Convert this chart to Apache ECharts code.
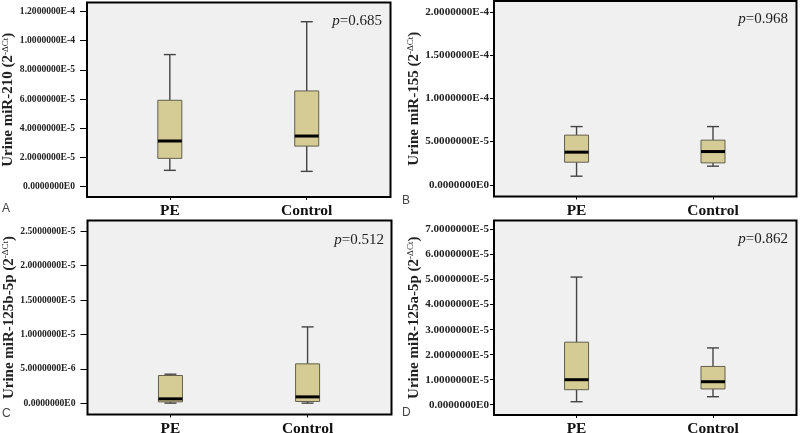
<!DOCTYPE html>
<html><head><meta charset="utf-8">
<script src="https://cdn.jsdelivr.net/npm/echarts@6/dist/echarts.min.js"></script>
<style>html,body{margin:0;padding:0;background:#fff}#c{width:800px;height:433px}</style>
</head><body><div id="c"></div>
<script>
// ---------- data ----------
const categories = ['PE', 'Control'];
// each: [min, Q1, median, Q3, max]
const miR210PE      = [1.12e-5, 1.94e-5, 3.13e-5, 5.92e-5, 9.05e-5];
const miR210Control = [1.05e-5, 2.78e-5, 3.47e-5, 6.56e-5, 1.13e-4];
const miR155PE      = [1.00e-5, 2.62e-5, 3.78e-5, 5.75e-5, 6.74e-5];
const miR155Control = [2.16e-5, 2.54e-5, 3.85e-5, 5.17e-5, 6.74e-5];
const miR125bPE      = [5e-8, 2.3e-7, 6.7e-7, 4.06e-6, 4.25e-6];
const miR125bControl = [5e-8, 2.9e-7, 9.6e-7, 5.75e-6, 1.111e-5];
const miR125aPE      = [1.2e-6, 6.0e-6, 1.0e-5, 2.50e-5, 5.10e-5];
const miR125aControl = [3.2e-6, 6.3e-6, 9.2e-6, 1.53e-5, 2.27e-5];
const pValues = ['0.685', '0.968', '0.512', '0.862'];
const panelLetters = ['A', 'B', 'C', 'D'];
const yNames = ['Urine miR-210', 'Urine miR-155', 'Urine miR-125b-5p', 'Urine miR-125a-5p'];
const yTicksA = [0, 2e-5, 4e-5, 6e-5, 8e-5, 1e-4, 1.2e-4];
const yTicksB = [0, 5e-5, 1e-4, 1.5e-4, 2e-4];
const yTicksC = [0, 5e-6, 1e-5, 1.5e-5, 2e-5, 2.5e-5];
const yTicksD = [0, 1e-5, 2e-5, 3e-5, 4e-5, 5e-5, 6e-5, 7e-5];

// ---------- layout ----------
const panels = [
  { grid: {left: 87,  top: 2.5,   width: 303.5, height: 194.5}, yMin: -7.06e-6, yMax: 1.2617e-4, ticks: yTicksA, lblSize: 9.6, lblMargin: 12, tickLen: 7, nameGap: 70,
    series: [miR210PE, miR210Control], p: [382, 21], letter: [2, 209] },
  { grid: {left: 494, top: 1,     width: 302.5, height: 195.5}, yMin: -1.35e-5, yMax: 2.127e-4, ticks: yTicksB, lblSize: 11.1, lblMargin: 5, tickLen: 4, nameGap: 67,
    series: [miR155PE, miR155Control], p: [788, 19], letter: [402, 201] },
  { grid: {left: 87.5, top: 220.5, width: 304,  height: 194},   yMin: -1.6e-6, yMax: 2.655e-5, ticks: yTicksC, lblSize: 9.6, lblMargin: 12, tickLen: 7, nameGap: 70,
    series: [miR125bPE, miR125bControl], p: [384, 240], letter: [2, 414] },
  { grid: {left: 494, top: 220.5, width: 302.5, height: 194.5}, yMin: -4.1e-6, yMax: 7.36e-5, ticks: yTicksD, lblSize: 11.1, lblMargin: 5, tickLen: 4, nameGap: 67,
    series: [miR125aPE, miR125aControl], p: [788, 239], letter: [402, 413] }
];

const SERIF = 'Liberation Serif';
function fmtSci(v) {
  if (Math.abs(v) < 1e-20) return '0.0000000E0';
  return v.toExponential(7).replace('e', 'E').replace('+', '');
}

function renderBox(params, api) {
  const x = api.value(0);
  const pMin = api.coord([x, api.value(1)]);
  const pQ1  = api.coord([x, api.value(2)]);
  const pMed = api.coord([x, api.value(3)]);
  const pQ3  = api.coord([x, api.value(4)]);
  const pMax = api.coord([x, api.value(5)]);
  const cx = pMed[0], hw = 12, cw = 6;
  const wStyle = {stroke: '#444', lineWidth: 1.4};
  return {
    type: 'group',
    children: [
      {type: 'line', shape: {x1: cx, y1: pQ3[1], x2: cx, y2: pMax[1]}, style: wStyle},
      {type: 'line', shape: {x1: cx, y1: pQ1[1], x2: cx, y2: pMin[1]}, style: wStyle},
      {type: 'line', shape: {x1: cx - cw, y1: pMax[1], x2: cx + cw, y2: pMax[1]}, style: wStyle},
      {type: 'line', shape: {x1: cx - cw, y1: pMin[1], x2: cx + cw, y2: pMin[1]}, style: wStyle},
      {type: 'rect', shape: {x: cx - hw, y: pQ3[1], width: 2 * hw, height: pQ1[1] - pQ3[1]},
        style: {fill: '#d4cc94', stroke: '#625f4c', lineWidth: 1}},
      {type: 'line', shape: {x1: cx - hw, y1: pMed[1], x2: cx + hw, y2: pMed[1]}, style: {stroke: '#000', lineWidth: 3}}
    ]
  };
}

const option = {
  animation: false,
  backgroundColor: '#ffffff',
  grid: panels.map(p => Object.assign({show: true, backgroundColor: '#f0f0f0', borderColor: '#000', borderWidth: 2,
    containLabel: false, outerBoundsMode: 'none'}, p.grid)),
  xAxis: panels.map((p, i) => ({
    gridIndex: i, type: 'value', min: 0.395, max: 2.612, position: 'bottom',
    axisLine: {show: false, onZero: false}, splitLine: {show: false},
    axisTick: {show: true, length: 3, customValues: [1, 2], lineStyle: {color: '#000', width: 1}},
    axisLabel: {customValues: [1, 2], formatter: v => categories[Math.round(v) - 1],
      fontFamily: SERIF, fontWeight: 'bold', fontSize: 15.5, color: '#111', margin: 6}
  })),
  yAxis: panels.map((p, i) => ({
    gridIndex: i, type: 'value', min: p.yMin, max: p.yMax, position: 'left',
    axisLine: {show: false, onZero: false}, splitLine: {show: false},
    axisTick: {show: true, length: p.tickLen, customValues: p.ticks, lineStyle: {color: '#000', width: 1}},
    axisLabel: {customValues: p.ticks, formatter: fmtSci, fontFamily: SERIF, fontWeight: 'bold',
      fontSize: p.lblSize, color: '#222', margin: p.lblMargin},
    name: yNames[i] + ' (2{s|-ΔCt})', nameLocation: 'middle', nameGap: p.nameGap,
    nameTextStyle: {fontFamily: SERIF, fontWeight: 'bold', fontSize: 15, color: '#222',
      rich: {s: {fontFamily: SERIF, fontSize: 9, fontWeight: 'normal', verticalAlign: 'top', color: '#222'}}}
  })),
  series: panels.map((p, i) => ({
    type: 'custom', xAxisIndex: i, yAxisIndex: i,
    renderItem: renderBox,
    encode: {x: 0, y: [1, 2, 3, 4, 5]},
    data: p.series.map((s, k) => [k + 1].concat(s))
  })),
  graphic: [].concat(
    panels.map((p, i) => ({
      type: 'text', x: p.p[0], y: p.p[1],
      style: {text: '{i|p}=' + pValues[i], fontFamily: SERIF, fontSize: 15, fill: '#222',
        align: 'right', verticalAlign: 'middle',
        rich: {i: {fontFamily: SERIF, fontSize: 15, fontStyle: 'italic', fill: '#222'}}}
    })),
    panels.map((p, i) => ({
      type: 'text', x: p.letter[0], y: p.letter[1],
      style: {text: panelLetters[i], fontFamily: 'Liberation Sans', fontSize: 12, fill: '#444',
        align: 'left', verticalAlign: 'middle'}
    }))
  )
};

const chart = echarts.init(document.getElementById('c'), null, {renderer: 'canvas'});
chart.setOption(option);
</script>
</body></html>
